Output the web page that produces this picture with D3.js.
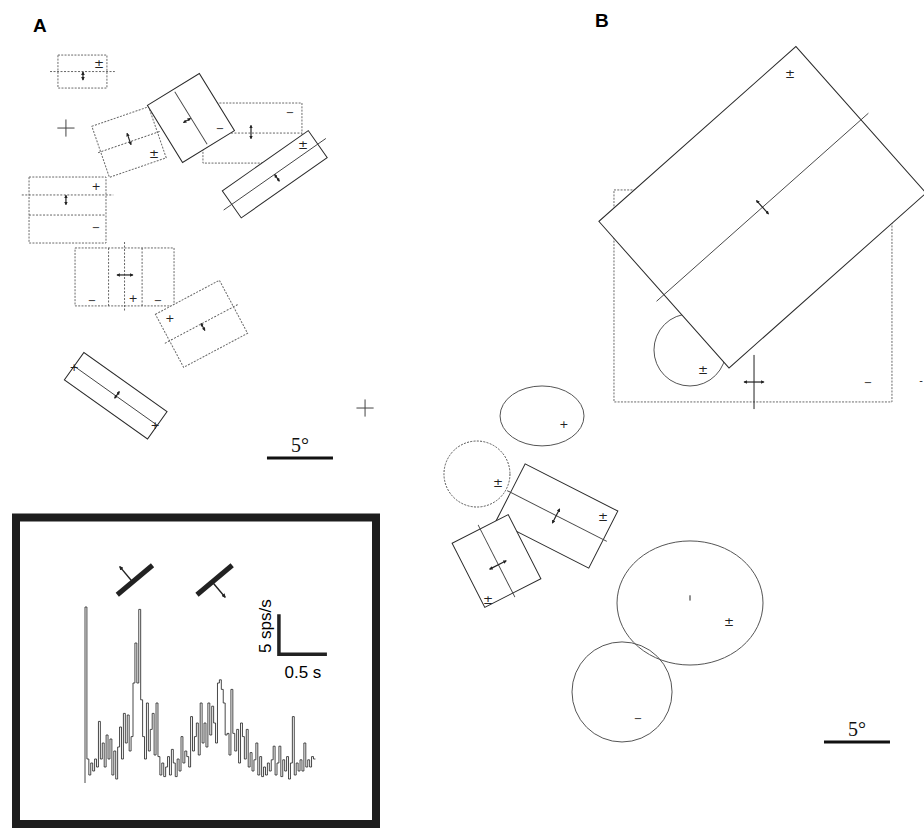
<!DOCTYPE html>
<html><head><meta charset="utf-8">
<script src="https://cdn.jsdelivr.net/npm/d3@7"></script>
<style>body{margin:0;background:#fff}svg{display:block}</style>
</head><body>
<svg id="c" width="924" height="828"></svg>
<script>
// ---------- DATA (visual-field degrees) ----------
// rectangles: centre x/y, width, height (deg), angle (deg), style (d=dotted, s=solid),
// wl = lines parallel to width [offset, extension], hl = lines parallel to height [offset, extension]
const rectsA = [
  {cx:4.73,  cy:2.39,  w:3.71, h:2.5,  a:0,     s:'d', wl:[[0,0.6]], hl:[]},
  {cx:17.61, cy:7.05,  w:7.5,  h:4.55, a:0,     s:'d', wl:[[0,0]],   hl:[]},
  {cx:8.26,  cy:7.73,  w:4.55, h:4.09, a:-19,   s:'d', wl:[[0,0.2]], hl:[]},
  {cx:12.95, cy:5.91,  w:4.62, h:5.08, a:-31.6, s:'s', wl:[],        hl:[[0,-0.2]]},
  {cx:19.3,  cy:10.17, w:7.95, h:2.5,  a:-35,   s:'s', wl:[[0,0.75]],hl:[]},
  {cx:3.6,   cy:12.88, w:5.83, h:5.0,  a:0,     s:'d', wl:[[-1.14,0.55],[0.38,0]], hl:[]},
  {cx:7.92,  cy:17.95, w:7.5,  h:4.39, a:0,     s:'d', wl:[],        hl:[[-1.21,0],[1.33,0],[0,0.45]]},
  {cx:13.75, cy:21.5,  w:5.49, h:4.55, a:-28,   s:'d', wl:[[0,0.4]], hl:[]},
  {cx:7.25,  cy:26.95, w:7.73, h:2.55, a:35.4,  s:'s', wl:[[0,0]],   hl:[]}
];
const crossesA = [[3.48,6.67],[26.14,27.88]];
// direction ticks: x, y, angle, length, arrowheads
const ticksA = [[4.77,2.73,90,0.6,1],[8.26,7.5,71,0.9,1],[12.65,6.1,-31,0.6,1],[17.5,6.97,90,1.0,1],
  [19.47,10.45,55,0.6,1],[3.48,12.12,90,0.7,1],[7.95,17.8,0,1.2,1],[13.86,21.74,62,0.6,1],[7.35,26.89,125,0.6,1]];
const signsA = [['±',5.98,1.67],['±',10.15,8.48],['−',15.15,6.67],['−',20.45,5.45],['±',21.44,7.8],
  ['+',5.76,11.06],['−',5.76,14.17],['−',5.45,19.7],['+',8.56,19.55],['−',10.45,19.7],
  ['+',11.36,21.06],['+',4.09,24.77],['+',10.23,29.17]];

const rectsB = [
  {cx:23.71, cy:19.39, w:21.06, h:16.06, a:0,     s:'d', wl:[],        hl:[]},
  {cx:24.43, cy:12.67, w:19.96, h:14.85, a:-41.6, s:'s', wl:[[0,0.75]],hl:[]},
  {cx:8.86,  cy:36.06, w:7.88,  h:4.85,  a:27,    s:'s', wl:[[0,0.3]], hl:[]},
  {cx:4.28,  cy:39.47, w:4.77,  h:5.45,  a:-27,   s:'s', wl:[],        hl:[[0,0.35]]}
];
// ellipses: centre x/y, radius x/y (deg), style
const ellipsesB = [[18.94,23.48,2.73,2.73,'s'],[7.73,28.48,3.18,2.27,'s'],[2.8,32.88,2.5,2.5,'d'],
  [18.94,42.65,5.53,4.7,'s'],[13.79,49.39,3.79,3.79,'s']];
const ticksB = [[24.43,12.67,48.4,1.36,1],[23.79,25.91,90,4.1,0],[23.79,25.91,0,1.5,1],
  [8.79,36.06,117,1.2,1],[4.39,39.77,-27,1.4,1],[18.94,42.27,90,0.4,0]];
const signsB = [['±',26.52,2.42],['±',19.92,24.85],['−',32.42,25.91],['+',9.39,29.09],['±',4.39,33.41],
  ['±',12.35,35.98],['±',3.64,42.27],['±',21.89,43.94],['−',15.0,51.36],['-',36.44,25.76]];
const scaleBarDeg = 5;

// PSTH (spikes/s per 20 ms bin)
const binWidth = 0.02;
const psth = [22,3,1,2.5,1.5,3,2,7.7,3,5,2,6,3,5.5,1,4,0.5,4.5,7,3,
  8.7,5,8.5,4,5.8,12.5,17.5,12.5,21.7,10.4,5.8,3,10,4,6.7,8.7,3.5,10,3.3,1,
  2.5,0.8,2,3.3,1,4.2,2.5,0.8,3,1.5,5.8,2.5,4,3.3,2,8.3,4,5.8,7.5,3.5,
  10,5,7.5,4.5,10,6,9.6,7.5,5,12.5,12.9,11.7,10,6,6.2,3.5,11.7,6.2,4,6.7,
  2.5,7.5,5.8,3,6.7,2,3.8,1.5,2.9,5,1,3.3,0.8,2,1,2.5,1.5,2.9,4.6,1,
  2.5,4.6,0.8,2.9,1.5,3.3,0.5,2.5,8.3,1,2.5,1.5,2.9,1.5,5,2,2.9,2,3.3,3];
const stimTimes = [0.52, 1.35];   // bar icons (preferred / opposite direction)
const calib = {rate:5, time:0.5, t0:2.02, r0:16.1};

// ---------- DRAW ----------
const svg = d3.select('#c');
const K = 13.2;
const xA = d3.scaleLinear().domain([0,30]).range([20,20+30*K]);
const yA = d3.scaleLinear().domain([0,35]).range([40,40+35*K]);
const xB = d3.scaleLinear().domain([0,37]).range([440,440+37*K]);
const yB = d3.scaleLinear().domain([0,56]).range([40,40+56*K]);

const defs = svg.append('defs');
defs.append('marker').attr('id','ah').attr('viewBox','0 0 10 10').attr('refX',8).attr('refY',5)
  .attr('markerWidth',3).attr('markerHeight',3).attr('orient','auto-start-reverse')
  .append('path').attr('d','M0,0L10,5L0,10z').attr('fill','#222');

function styl(sel, s){
  if(s==='d') sel.attr('stroke','#6a6a6a').attr('stroke-width',1).attr('stroke-dasharray','2,1.3');
  else sel.attr('stroke','#2a2a2a').attr('stroke-width',1);
  return sel;
}
function drawRect(g, r, xs, ys){
  const k = xs(1)-xs(0);
  const W = r.w*k, H = r.h*k;
  const gg = g.append('g').attr('transform',`translate(${xs(r.cx)},${ys(r.cy)}) rotate(${r.a})`);
  styl(gg.append('rect').attr('x',-W/2).attr('y',-H/2).attr('width',W).attr('height',H).attr('fill','#fff'), r.s);
  r.wl.forEach(([o,e])=>{
    gg.append('line').attr('x1',-W/2-e*k).attr('x2',W/2+e*k).attr('y1',o*k).attr('y2',o*k)
      .attr('stroke', r.s==='d'?'#555':'#444').attr('stroke-width',0.9).attr('stroke-dasharray', r.s==='d'?'2,1.5':null);
  });
  r.hl.forEach(([o,e])=>{
    gg.append('line').attr('y1',-H/2-e*k).attr('y2',H/2+e*k).attr('x1',o*k).attr('x2',o*k)
      .attr('stroke', r.s==='d'?'#555':'#444').attr('stroke-width',0.9).attr('stroke-dasharray', r.s==='d'?'2,1.5':null);
  });
}
function drawEllipse(g, e, xs, ys){
  const k = xs(1)-xs(0);
  styl(g.append('ellipse').attr('cx',xs(e[0])).attr('cy',ys(e[1])).attr('rx',e[2]*k).attr('ry',e[3]*k).attr('fill','none'), e[4])
    .attr('stroke','#555');
}
function drawTicks(g, ticks, xs, ys){
  const k = xs(1)-xs(0);
  ticks.forEach(([x,y,a,l,ar])=>{
    const dx = Math.cos(a*Math.PI/180)*l*k/2, dy = Math.sin(a*Math.PI/180)*l*k/2;
    const ln = g.append('line').attr('x1',xs(x)-dx).attr('y1',ys(y)-dy).attr('x2',xs(x)+dx).attr('y2',ys(y)+dy)
      .attr('stroke','#222').attr('stroke-width',ar?1.2:1);
    if(ar) ln.attr('marker-start','url(#ah)').attr('marker-end','url(#ah)');
  });
}
function drawSigns(g, signs, xs, ys){
  signs.forEach(([t,x,y])=>{
    g.append('text').attr('x',xs(x)).attr('y',ys(y)+(t==='±'?6:4)).text(t)
      .attr('font-size',t==='±'?12:(t==='+'?11:10));
  });
  g.selectAll('text').attr('text-anchor','middle').attr('font-family','DejaVu Sans, sans-serif').attr('fill','#222');
}
function drawCrosses(g, cr, xs, ys){
  const k = xs(1)-xs(0), s = 0.65*k;
  cr.forEach(([x,y])=>{
    g.append('path').attr('d',`M${xs(x)-s},${ys(y)}H${xs(x)+s}M${xs(x)},${ys(y)-s}V${ys(y)+s}`)
      .attr('stroke','#444').attr('stroke-width',1).attr('fill','none');
  });
}
function scaleBar(g, x0, y0, xs){
  g.append('line').attr('x1',xs(x0)).attr('x2',xs(x0+scaleBarDeg)).attr('y1',y0).attr('y2',y0)
    .attr('stroke','#111').attr('stroke-width',3);
  g.append('text').attr('x',(xs(x0)+xs(x0+scaleBarDeg))/2).attr('y',y0-6).attr('text-anchor','middle')
    .attr('font-family','Liberation Serif, serif').attr('font-size',20).attr('fill','#111').text(scaleBarDeg+'°');
}

// Panel A
const gA = svg.append('g');
gA.append('text').attr('x',33).attr('y',32).attr('font-family','Liberation Sans, Arial, sans-serif')
  .attr('font-weight','bold').attr('font-size',19).text('A');
rectsA.forEach(r=>drawRect(gA,r,xA,yA));
drawCrosses(gA, crossesA, xA, yA);
drawTicks(gA, ticksA, xA, yA);
drawSigns(gA.append('g'), signsA, xA, yA);
scaleBar(gA, 18.71, 458, xA);

// Panel B
const gB = svg.append('g');
gB.append('text').attr('x',595).attr('y',27).attr('font-family','Liberation Sans, Arial, sans-serif')
  .attr('font-weight','bold').attr('font-size',19).text('B');
drawRect(gB, rectsB[0], xB, yB);
drawEllipse(gB, ellipsesB[0], xB, yB);
rectsB.slice(1).forEach(r=>drawRect(gB,r,xB,yB));
ellipsesB.slice(1).forEach(e=>drawEllipse(gB,e,xB,yB));
drawTicks(gB, ticksB, xB, yB);
drawSigns(gB.append('g'), signsB, xB, yB);
scaleBar(gB, 29.09, 742, xB);

// Inset PSTH
const gI = svg.append('g');
gI.append('rect').attr('x',16).attr('y',517.5).attr('width',360).attr('height',306.5)
  .attr('fill','#fff').attr('stroke','#1e1e1e').attr('stroke-width',8);
const xT = d3.scaleLinear().domain([0, psth.length*binWidth]).range([85, 85+96*psth.length*binWidth]);
const yR = d3.scaleLinear().domain([0,25]).range([783,583]);
const pts = [[0,0]].concat(psth.map((v,i)=>[i*binWidth, v])).concat([[psth.length*binWidth, psth[psth.length-1]]]);
gI.append('path').attr('d', d3.line().x(d=>xT(d[0])).y(d=>yR(d[1])).curve(d3.curveStepAfter)(pts))
  .attr('fill','none').attr('stroke','#333').attr('stroke-width',0.9);
// calibration bars
gI.append('path').attr('d',`M${xT(calib.t0)},${yR(calib.r0+calib.rate)}V${yR(calib.r0)}H${xT(calib.t0+calib.time)}`)
  .attr('fill','none').attr('stroke','#222').attr('stroke-width',3.5);
gI.append('text').attr('transform',`translate(${xT(calib.t0)-8},${yR(calib.r0+calib.rate/2)-8}) rotate(-90)`)
  .attr('text-anchor','middle').attr('font-family','Liberation Sans, Arial, sans-serif').attr('font-size',17).text('5 sps/s');
gI.append('text').attr('x',(xT(calib.t0)+xT(calib.t0+calib.time))/2).attr('y',yR(calib.r0)+24)
  .attr('text-anchor','middle').attr('font-family','Liberation Sans, Arial, sans-serif').attr('font-size',17).text('0.5 s');
// stimulus icons
stimTimes.forEach((t,i)=>{
  const cx = xT(t), cy = 580;
  const g = gI.append('g').attr('transform',`translate(${cx},${cy}) rotate(-40)`);
  g.append('rect').attr('x',-23).attr('y',-2.5).attr('width',46).attr('height',5).attr('fill','#222');
  const dir = i===0 ? -1 : 1;
  g.append('line').attr('x1',-3).attr('y1',0).attr('x2',-3).attr('y2',dir*20)
    .attr('stroke','#222').attr('stroke-width',1.4).attr('marker-end','url(#ah)');
});
</script>
</body></html>
